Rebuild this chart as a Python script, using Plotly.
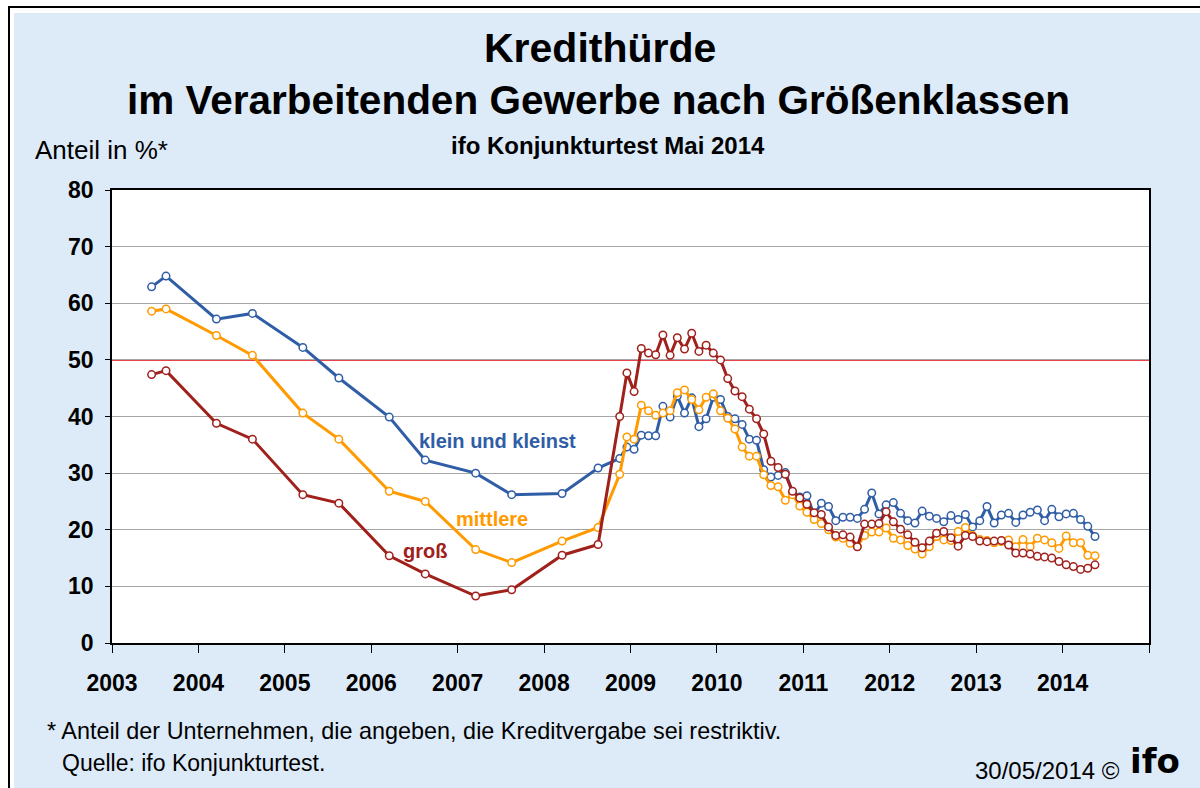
import plotly.graph_objects as go

# ---------------- data ----------------
survey_months = ["2003-06", "2003-08", "2004-03", "2004-08", "2005-03", "2005-08",
                 "2006-03", "2006-08", "2007-03", "2007-08", "2008-03", "2008-08"]
monthly_start = (2008, 11)
monthly_end = (2014, 5)

klein_survey = [62.9, 64.8, 57.2, 58.2, 52.2, 46.8, 39.9, 32.3, 30.0, 26.2, 26.4, 30.9]
klein_monthly = [32.6, 34.6, 34.2, 36.7, 36.6, 36.6, 41.8, 39.9, 43.6, 40.6, 43.3, 38.2,
                 39.6, 43.4, 43.0, 40.0, 39.6, 38.6, 36.0, 35.8, 30.6, 29.3, 29.6, 30.1,
                 26.6, 25.8, 26.0, 22.6, 24.7, 24.1, 21.6, 22.2, 22.2, 22.0, 23.6, 26.5,
                 22.8, 24.4, 24.8, 22.9, 21.6, 21.2, 23.3, 22.4, 22.0, 21.4, 22.5, 21.8,
                 22.7, 20.5, 21.6, 24.1, 21.2, 22.6, 22.9, 21.3, 22.6, 23.1, 23.5, 21.6,
                 23.6, 22.3, 22.8, 22.9, 21.8, 20.6, 18.8]

mittlere_survey = [58.6, 59.0, 54.3, 50.8, 40.6, 36.0, 26.8, 25.0, 16.5, 14.2, 18.0, 20.4]
mittlere_monthly = [29.8, 36.4, 36.0, 42.0, 41.0, 40.2, 40.6, 41.0, 44.2, 44.7, 43.0, 41.2,
                    43.4, 44.0, 41.0, 39.7, 37.8, 34.6, 33.0, 33.0, 29.7, 27.8, 27.6, 25.2,
                    26.2, 24.2, 23.1, 21.8, 21.1, 20.0, 18.7, 18.5, 17.6, 17.1, 19.0, 19.6,
                    19.6, 20.3, 18.5, 18.2, 17.2, 16.6, 15.7, 17.0, 18.8, 18.2, 18.1, 19.7,
                    20.4, 19.0, 18.3, 18.1, 17.7, 17.9, 18.2, 17.0, 18.3, 17.0, 18.5, 18.2,
                    17.7, 16.7, 18.9, 17.7, 17.7, 15.5, 15.4]

gross_survey = [47.4, 48.1, 38.8, 36.0, 26.2, 24.7, 15.4, 12.2, 8.3, 9.4, 15.5, 17.4]
gross_monthly = [40.0, 47.7, 44.4, 52.0, 51.2, 50.9, 54.4, 50.8, 53.9, 51.9, 54.7, 51.5,
                 52.6, 51.2, 50.0, 46.7, 44.5, 43.5, 41.3, 39.6, 36.9, 32.1, 31.0, 29.8,
                 26.8, 25.6, 24.5, 23.0, 22.7, 20.5, 19.0, 19.1, 18.7, 17.0, 21.0, 21.0,
                 21.1, 23.2, 21.4, 20.1, 19.1, 17.8, 16.8, 18.0, 19.4, 19.7, 18.6, 17.1,
                 19.0, 18.8, 18.0, 17.9, 18.0, 18.1, 17.3, 15.9, 15.9, 15.7, 15.3, 15.2,
                 15.0, 14.4, 13.8, 13.5, 13.0, 13.2, 13.8]

series_names = ["klein und kleinst", "mittlere", "groß"]
year_ticks = list(range(2003, 2015))
y_ticks = [0, 10, 20, 30, 40, 50, 60, 70, 80]
threshold = 50

# ---------------- build dates ----------------
months = list(survey_months)
y0, m0 = monthly_start
while (y0, m0) <= monthly_end:
    months.append(f"{y0}-{m0:02d}")
    m0 += 1
    if m0 > 12:
        m0 = 1
        y0 += 1

def to_dec(s):
    yy, mm = s.split("-")
    return int(yy) + (int(mm) - 0.5) / 12.0

xs = [to_dec(s) for s in months]

klein = klein_survey + klein_monthly
mittlere = mittlere_survey + mittlere_monthly
gross = gross_survey + gross_monthly

colors = ["#2F5DA6", "#FF9A00", "#A0201C"]
FONT = "Liberation Sans, Arial, sans-serif"

fig = go.Figure()
for name, vals, col in zip(series_names, [klein, mittlere, gross], colors):
    fig.add_trace(go.Scatter(
        x=xs, y=vals, name=name, mode="lines+markers",
        line=dict(color=col, width=3),
        marker=dict(symbol="circle", size=7.5, color="white", line=dict(color=col, width=1.5)),
        showlegend=False,
    ))

# pixel geometry of the plot area (page pixels)
L, R, T, B = 112, 1149, 190, 643
W, H = 1200, 788

def px(x):
    return (x - L) / (R - L)

def py(y):
    return (B - y) / (B - T)

shapes = [
    dict(type="rect", xref="paper", yref="paper", x0=px(9), x1=px(1230), y0=py(7), y1=py(820),
         line=dict(color="black", width=2), fillcolor="white", layer="below"),
    dict(type="rect", xref="paper", yref="paper", x0=px(14), x1=px(1230), y0=py(13), y1=py(820),
         line=dict(width=0), fillcolor="#DDEBF9", layer="below"),
    dict(type="rect", xref="paper", yref="paper", x0=0, x1=1, y0=0, y1=1,
         line=dict(width=0), fillcolor="white", layer="below"),
    dict(type="line", xref="paper", yref="y", x0=0, x1=1, y0=threshold, y1=threshold,
         line=dict(color="#E8000B", width=1.5), layer="between"),
]

annotations = [
    dict(text="<b>Kredithürde</b>", x=px(600), y=py(48), font=dict(size=41, color="black")),
    dict(text="<b>im Verarbeitenden Gewerbe nach Größenklassen</b>", x=px(598), y=py(100),
         font=dict(size=40.5, color="black")),
    dict(text="<b>ifo Konjunkturtest Mai 2014</b>", x=px(608), y=py(146), font=dict(size=24, color="black")),
    dict(text="Anteil in %*", x=px(33), y=py(150), xanchor="left", font=dict(size=26, color="black")),
    dict(text="<b>klein und kleinst</b>", x=px(497), y=py(441), font=dict(size=20, color=colors[0])),
    dict(text="<b>mittlere</b>", x=px(492), y=py(519), font=dict(size=20, color=colors[1])),
    dict(text="<b>groß</b>", x=px(425), y=py(551), font=dict(size=20, color=colors[2])),
    dict(text="* Anteil der Unternehmen, die angeben, die Kreditvergabe sei restriktiv.",
         x=px(45), y=py(731), xanchor="left", font=dict(size=23.4, color="black")),
    dict(text="Quelle: ifo Konjunkturtest.", x=px(60), y=py(763), xanchor="left",
         font=dict(size=23, color="black")),
    dict(text="30/05/2014 ©", x=px(1122), y=py(770), xanchor="right", font=dict(size=24, color="black")),
    dict(text="<b>ifo</b>", x=px(1128), y=py(761), xanchor="left",
         font=dict(size=34, color="black", family="DejaVu Sans, Liberation Sans")),
]
for a in annotations:
    a.update(xref="paper", yref="paper", showarrow=False)
    a.setdefault("xanchor", "center")
    a["yanchor"] = "middle"
    a["font"].setdefault("family", FONT)

fig.update_layout(
    width=W, height=H,
    margin=dict(l=L, r=W - R, t=T, b=H - B, pad=0),
    paper_bgcolor="white", plot_bgcolor="white",
    font=dict(family=FONT, color="black"),
    shapes=shapes, annotations=annotations,
    showlegend=False,
)
fig.update_xaxes(
    range=[2003, 2015], tickvals=year_ticks + [2015], ticktext=[str(y) for y in year_ticks] + [""],
    showgrid=False, zeroline=False,
    showline=True, linecolor="black", linewidth=1.5, mirror=True,
    ticks="outside", ticklen=8, tickcolor="black", tickwidth=1,
    tickfont=dict(size=23, family=FONT, color="black", weight="bold"),
    ticklabelstandoff=11,
)
fig.update_yaxes(
    range=[0, 80], tickvals=y_ticks,
    showgrid=True, gridcolor="#A6A6A6", gridwidth=1.3, zeroline=False,
    showline=True, linecolor="black", linewidth=1.5, mirror=True,
    ticks="outside", ticklen=5, tickcolor="black", tickwidth=1,
    tickfont=dict(size=23, family=FONT, color="black", weight="bold"),
    ticklabelstandoff=7,
)

fig.write_html(
    "out.html",
    config={"displayModeBar": False},
    post_script="document.body.style.margin='0';document.body.style.overflow='hidden';",
)
